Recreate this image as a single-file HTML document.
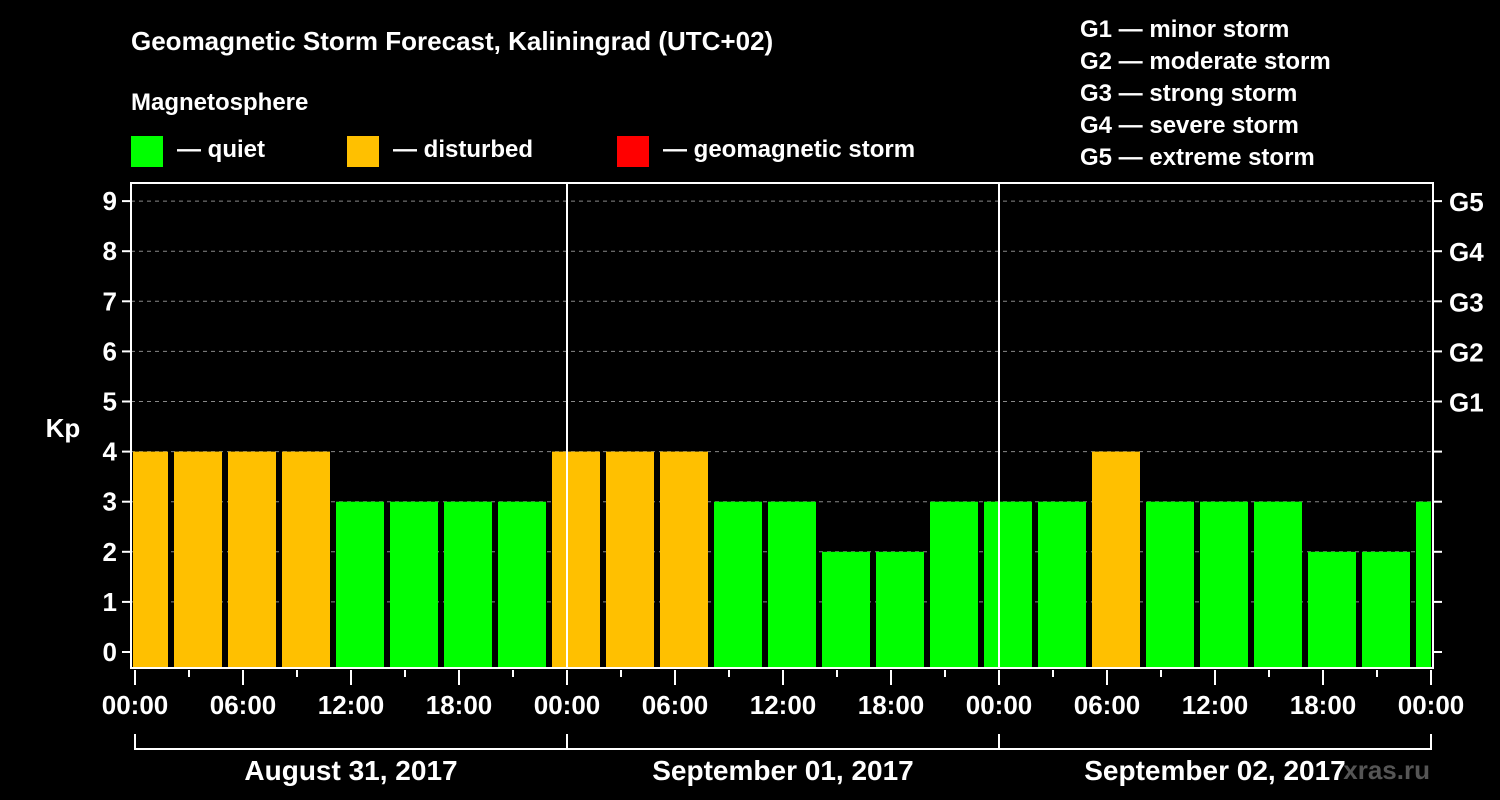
<!DOCTYPE html>
<html><head><meta charset="utf-8"><style>
body{margin:0;background:#000;width:1500px;height:800px;overflow:hidden}
svg{display:block;font-family:"Liberation Sans",sans-serif;font-weight:bold}
</style></head><body>
<svg id="c" width="1500" height="800">
<rect width="1500" height="800" fill="#000"/>
<text x="131" y="50" fill="#fff" font-size="26">Geomagnetic Storm Forecast, Kaliningrad (UTC+02)</text>
<text x="131" y="110" fill="#fff" font-size="24">Magnetosphere</text>
<g><rect x="131" y="136" width="32" height="31" fill="#00ff00"/><text x="177" y="157" fill="#fff" font-size="24">— quiet</text></g>
<g><rect x="347" y="136" width="32" height="31" fill="#ffc000"/><text x="393" y="157" fill="#fff" font-size="24">— disturbed</text></g>
<g><rect x="617" y="136" width="32" height="31" fill="#ff0000"/><text x="663" y="157" fill="#fff" font-size="24">— geomagnetic storm</text></g>
<g fill="#fff" font-size="24">
<text x="1080" y="37">G1 — minor storm</text><text x="1080" y="69">G2 — moderate storm</text><text x="1080" y="101">G3 — strong storm</text><text x="1080" y="133">G4 — severe storm</text><text x="1080" y="165">G5 — extreme storm</text></g>
<text x="63" y="437" fill="#fff" font-size="26" text-anchor="middle">Kp</text>
<text x="1430" y="779" fill="#555" font-size="26" text-anchor="end">xras.ru</text>
<g id="g"></g>
</svg>
<script>
const kpValues=[4,4,4,4,3,3,3,3, 4,4,4,3,3,2,2,3, 3,3,4,3,3,3,2,2, 3];
const dayLabels=["August 31, 2017","September 01, 2017","September 02, 2017"];
const hourLabels=["00:00","06:00","12:00","18:00"];
const yTicks=[0,1,2,3,4,5,6,7,8,9];
const gLabels=["G1","G2","G3","G4","G5"];
const NS="http://www.w3.org/2000/svg",g=document.getElementById('g');
const L=131,R=1433,T=183,B=668,X0=135,DAY=432;
const y=v=>652-v*50.1, x=h=>X0+h*DAY/24;
function mk(t,a,p){const e=document.createElementNS(NS,t);for(const k in a)e.setAttribute(k,a[k]);(p||g).appendChild(e);return e;}
const clip=mk('clipPath',{id:'cp'});mk('rect',{x:L+2,y:T,width:R-L-4,height:B-T-1},clip);
yTicks.forEach(v=>{if(v>0){const l=mk('line',{x1:L,x2:R,y1:y(v),y2:y(v),stroke:'#888','stroke-dasharray':'4,4'});

}
mk('line',{x1:L-9,x2:L,y1:y(v),y2:y(v),stroke:'#fff','stroke-width':2});
mk('line',{x1:R,x2:R+9,y1:y(v),y2:y(v),stroke:'#fff','stroke-width':2});
const t=mk('text',{x:L-14,y:y(v)+9,fill:'#fff','font-size':26,'text-anchor':'end'});t.textContent=v;

});
gLabels.forEach((s,i)=>{const t=mk('text',{x:R+16,y:y(5+i)+10,fill:'#fff','font-size':26});t.textContent=s;

});
const bars=mk('g',{'clip-path':'url(#cp)'});
kpValues.forEach((v,i)=>{const c=x(0.5+3*i);const r=mk('rect',{x:c-24,y:y(v),width:48,height:B-1-y(v),fill:v>=5?'#ff0000':v>=4?'#ffc000':'#00ff00'},bars);

});
[1,2].forEach(d=>mk('line',{x1:x(24*d),x2:x(24*d),y1:T,y2:B,stroke:'#fff','stroke-width':2}));
mk('rect',{x:L,y:T,width:R-L,height:B-T,fill:'none',stroke:'#fff','stroke-width':2});
for(let h=0;h<=72;h+=3){const maj=h%6==0;mk('line',{x1:x(h),x2:x(h),y1:B+2,y2:B+(maj?17:9),stroke:'#fff','stroke-width':2});
if(maj){const t=mk('text',{x:x(h),y:714,fill:'#fff','font-size':26,'text-anchor':'middle'});t.textContent=hourLabels[(h/6)%4];

}}
mk('line',{x1:x(0),x2:x(72),y1:749,y2:749,stroke:'#fff','stroke-width':2});
for(let d=0;d<=3;d++)mk('line',{x1:x(24*d),x2:x(24*d),y1:734,y2:750,stroke:'#fff','stroke-width':2});
dayLabels.forEach((s,d)=>{const t=mk('text',{x:x(24*d+12),y:780,fill:'#fff','font-size':28,'text-anchor':'middle'});t.textContent=s;

});
</script>
</body></html>
